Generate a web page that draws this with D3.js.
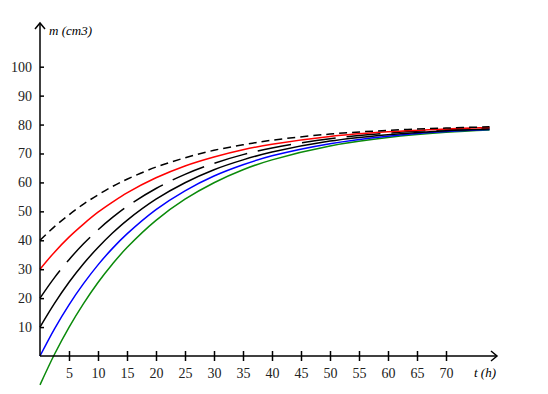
<!DOCTYPE html>
<html>
<head>
<meta charset="utf-8">
<script src="https://cdn.jsdelivr.net/npm/d3@7.9.0/dist/d3.min.js"></script>
<style>
  body { margin: 0; background: #fff; }
  svg text { font-family: "Times New Roman", Times, "Liberation Serif", serif; }
</style>
</head>
<body>
<div id="chart"></div>
<script>
// sample times (h)
const times = [0, 2.5, 5, 7.5, 10, 12.5, 15, 20, 25, 30, 35, 40, 50, 60, 70, 77.5];

// m (cm3), named by its start value
const m40 = [40, 44.7, 48.8, 52.5, 55.7, 58.6, 61.1, 65.3, 68.5, 71.1, 73.0, 74.6, 76.7, 78.0, 78.8, 79.2];
const m30 = [30, 35.9, 41.1, 45.6, 49.7, 53.2, 56.4, 61.6, 65.7, 68.8, 71.3, 73.2, 75.9, 77.5, 78.5, 79.0];
const m20 = [20, 27.1, 33.3, 38.8, 43.6, 47.9, 51.7, 57.9, 62.8, 66.6, 69.6, 71.9, 75.1, 77.0, 78.2, 78.8];
const m10 = [10, 18.2, 25.5, 31.9, 37.5, 42.5, 46.9, 54.2, 59.9, 64.4, 67.8, 70.5, 74.3, 76.5, 77.9, 78.5];
const m0 = [0, 9.4, 17.7, 25.0, 31.5, 37.2, 42.2, 50.6, 57.1, 62.2, 66.1, 69.2, 73.4, 76.0, 77.6, 78.3];
const mNeg10 = [-10, 0.6, 9.9, 18.1, 25.4, 31.8, 37.5, 46.9, 54.2, 59.9, 64.4, 67.8, 72.6, 75.5, 77.3, 78.1];

const xTicks = [5, 10, 15, 20, 25, 30, 35, 40, 45, 50, 55, 60, 65, 70];
const yTicks = [10, 20, 30, 40, 50, 60, 70, 80, 90, 100];

const series = [
  { values: mNeg10, color: "#0a8a0a", dash: null },
  { values: m0, color: "#0000ff", dash: null },
  { values: m10, color: "#000000", dash: null },
  { values: m20, color: "#000000", dash: "34,11" },
  { values: m30, color: "#ff0000", dash: null },
  { values: m40, color: "#000000", dash: "8,5" },
];

const width = 548;
const height = 394;

const x = d3.scaleLinear().domain([0, 70]).range([40, 446]);
const y = d3.scaleLinear().domain([0, 100]).range([356, 66.7]);

const svg = d3.select("#chart")
  .append("svg")
  .attr("width", width)
  .attr("height", height);

// curves
const line = d3.line()
  .x((d, i) => x(times[i]))
  .y((d) => y(d))
  .curve(d3.curveCatmullRom);

svg.append("g")
  .selectAll("path")
  .data(series)
  .join("path")
  .attr("d", (s) => line(s.values))
  .attr("fill", "none")
  .attr("stroke", (s) => s.color)
  .attr("stroke-width", 1.5)
  .attr("stroke-dasharray", (s) => s.dash);

// axes
const xAxis = svg.append("g")
  .attr("transform", `translate(0, ${y(0)})`)
  .call(d3.axisBottom(x).tickValues(xTicks).tickSizeInner(5).tickSizeOuter(0))
  .attr("font-family", null)
  .attr("font-size", 14);
xAxis.select(".domain").remove();
xAxis.selectAll(".tick line").attr("y1", -5).attr("stroke-width", 1.5);
xAxis.selectAll(".tick text")
  .attr("y", 12)
  .attr("dy", "0.71em")
  .attr("fill", "#222");

const yAxis = svg.append("g")
  .attr("transform", `translate(${x(0)}, 0)`)
  .call(d3.axisLeft(y).tickValues(yTicks).tickSizeInner(4).tickSizeOuter(0))
  .attr("font-family", null)
  .attr("font-size", 14);
yAxis.select(".domain").remove();
yAxis.selectAll(".tick line").attr("x2", 4).attr("stroke-width", 1.5);
yAxis.selectAll(".tick text")
  .attr("x", -8)
  .attr("fill", "#222");

// axis lines with arrows
const x0 = x(0), y0 = y(0);
const xEnd = 497, yEnd = 23;
svg.append("line")
  .attr("x1", x0).attr("y1", y0).attr("x2", xEnd).attr("y2", y0)
  .attr("stroke", "#000").attr("stroke-width", 1.5);
svg.append("path")
  .attr("d", `M${xEnd - 6},${y0 - 5}L${xEnd},${y0}L${xEnd - 6},${y0 + 5}`)
  .attr("fill", "none").attr("stroke", "#000").attr("stroke-width", 1.5);
svg.append("line")
  .attr("x1", x0).attr("y1", y0).attr("x2", x0).attr("y2", yEnd)
  .attr("stroke", "#000").attr("stroke-width", 1.5);
svg.append("path")
  .attr("d", `M${x0 - 5},${yEnd + 6}L${x0},${yEnd}L${x0 + 5},${yEnd + 6}`)
  .attr("fill", "none").attr("stroke", "#000").attr("stroke-width", 1.5);

// axis titles
svg.append("text")
  .attr("x", 49).attr("y", 35)
  .attr("font-size", 13)
  .attr("font-style", "italic")
  .text("m (cm3)");
svg.append("text")
  .attr("x", 474).attr("y", 377)
  .attr("font-size", 13)
  .attr("font-style", "italic")
  .text("t (h)");
</script>
</body>
</html>
